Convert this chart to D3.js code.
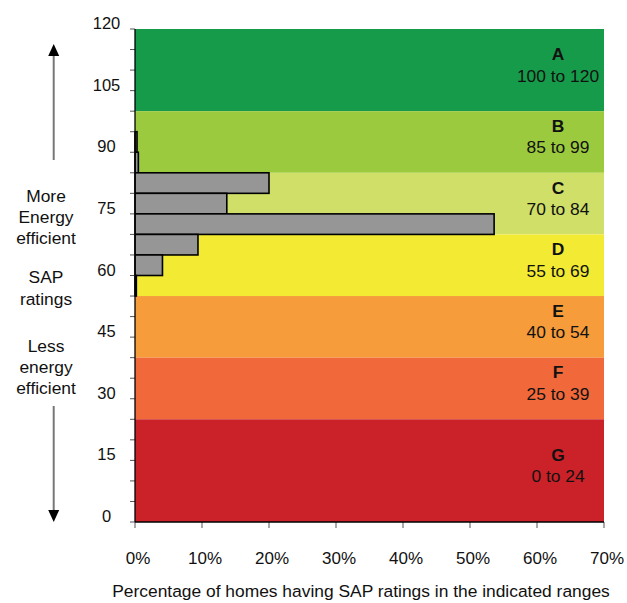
<!DOCTYPE html>
<html>
<head>
<meta charset="utf-8">
<script src="https://cdn.jsdelivr.net/npm/d3@7"></script>
<style>
html,body{margin:0;padding:0;background:#fff;}
svg{display:block;font-family:"Liberation Sans",Arial,sans-serif;}
</style>
</head>
<body>
<svg id="chart" width="627" height="603"></svg>
<script>
// ---- data ----
const bandLetters = ["A","B","C","D","E","F","G"];
const bandRanges = ["100 to 120","85 to 99","70 to 84","55 to 69","40 to 54","25 to 39","0 to 24"];
const bandLow = [100,85,70,55,40,25,0];
const bandHigh = [120,100,85,70,55,40,25];
const bandColors = ["#169b4a","#9bca3e","#cfdf68","#f3eb33","#f69c3a","#f1693b","#cb2128"];

const binLow = [90,85,80,75,70,65,60,55];
const binPct = [0.3,0.5,20.0,13.7,53.6,9.4,4.1,0.2];

const yTicks = [0,15,30,45,60,75,90,105,120];
const xTicks = [0,10,20,30,40,50,60,70];
const xTitle = "Percentage of homes having SAP ratings in the indicated ranges";
const leftTop = ["More","Energy","efficient"];
const leftMid = ["SAP","ratings"];
const leftBot = ["Less","energy","efficient"];

// ---- layout ----
const svg = d3.select("#chart");
const x = d3.scaleLinear().domain([0,70]).range([135,604]);
const y = d3.scaleLinear().domain([0,120]).range([522,29]);
const fs = "17.4px";

// bands
const bands = bandLetters.map((l,i)=>({l, r:bandRanges[i], lo:bandLow[i], hi:bandHigh[i], c:bandColors[i]}));
svg.append("g").selectAll("rect").data(bands).join("rect")
  .attr("x", x(0)).attr("width", x(70)-x(0))
  .attr("y", d=>y(d.hi)).attr("height", d=>y(d.lo)-y(d.hi))
  .attr("fill", d=>d.c);

// histogram bars
const bins = binLow.map((b,i)=>({lo:b, hi:b+5, v:binPct[i]}));
svg.append("g").selectAll("rect").data(bins).join("rect")
  .attr("x", x(0)).attr("width", d=>x(d.v)-x(0))
  .attr("y", d=>y(d.hi)).attr("height", d=>y(d.lo)-y(d.hi))
  .attr("fill", "#969696").attr("stroke", "#000").attr("stroke-width", 1.6);

// band labels
const bl = svg.append("g").attr("text-anchor","middle").attr("fill","#111").style("font-size",fs);
bands.forEach(d=>{
  const mid = (y(d.lo)+y(d.hi))/2;
  bl.append("text").attr("x", 558).attr("y", mid-10).style("font-weight","bold").text(d.l);
  bl.append("text").attr("x", 558).attr("y", mid+11.5).text(d.r);
});

// y axis
const yMinor = d3.range(0,121,5);
const ya = svg.append("g");
ya.selectAll("line.t").data(yMinor).join("line")
  .attr("x1", x(0)-5).attr("x2", x(0)).attr("y1", d=>y(d)).attr("y2", d=>y(d))
  .attr("stroke","#555").attr("stroke-width",1);
ya.append("line").attr("x1",x(0)).attr("x2",x(0)).attr("y1",y(120)).attr("y2",y(0))
  .attr("stroke","#000").attr("stroke-width",1.3);
ya.selectAll("text").data(yTicks).join("text")
  .attr("x", 106.5).attr("y", d=>y(d)).attr("text-anchor","middle")
  .style("font-size","16.5px").attr("fill","#111").text(d=>d);

// x axis
const xa = svg.append("g");
xa.selectAll("line").data(xTicks).join("line")
  .attr("x1", d=>x(d)).attr("x2", d=>x(d)).attr("y1", y(0)).attr("y2", y(0)+6)
  .attr("stroke","#555").attr("stroke-width",1);
xa.append("line").attr("x1",x(0)).attr("x2",x(70)).attr("y1",y(0)).attr("y2",y(0))
  .attr("stroke","#000").attr("stroke-width",1.3);
xa.selectAll("text").data(xTicks).join("text")
  .attr("x", d=>x(d)+3).attr("y", 564).attr("text-anchor","middle")
  .style("font-size","17px").attr("fill","#111").text(d=>d+"%");

svg.append("text").attr("x", 361).attr("y", 597).attr("text-anchor","middle")
  .style("font-size",fs).attr("fill","#111").text(xTitle);

// left labels
const lt = svg.append("g").attr("text-anchor","middle").style("font-size",fs).attr("fill","#111");
[[leftTop,201.7],[leftMid,283.3],[leftBot,351.7]].forEach(([lines,y0])=>{
  lines.forEach((s,i)=>lt.append("text").attr("x",46).attr("y", y0+i*21.3).text(s));
});

// arrows
const ax = 53.7;
svg.append("line").attr("x1",ax).attr("x2",ax).attr("y1",160).attr("y2",54)
  .attr("stroke","#777").attr("stroke-width",2);
svg.append("path").attr("d",`M${ax},44 L${ax-5.5},56 L${ax+5.5},56 Z`).attr("fill","#000");
svg.append("line").attr("x1",ax).attr("x2",ax).attr("y1",406).attr("y2",512)
  .attr("stroke","#777").attr("stroke-width",2);
svg.append("path").attr("d",`M${ax},522 L${ax-5.5},510 L${ax+5.5},510 Z`).attr("fill","#000");
</script>
</body>
</html>
